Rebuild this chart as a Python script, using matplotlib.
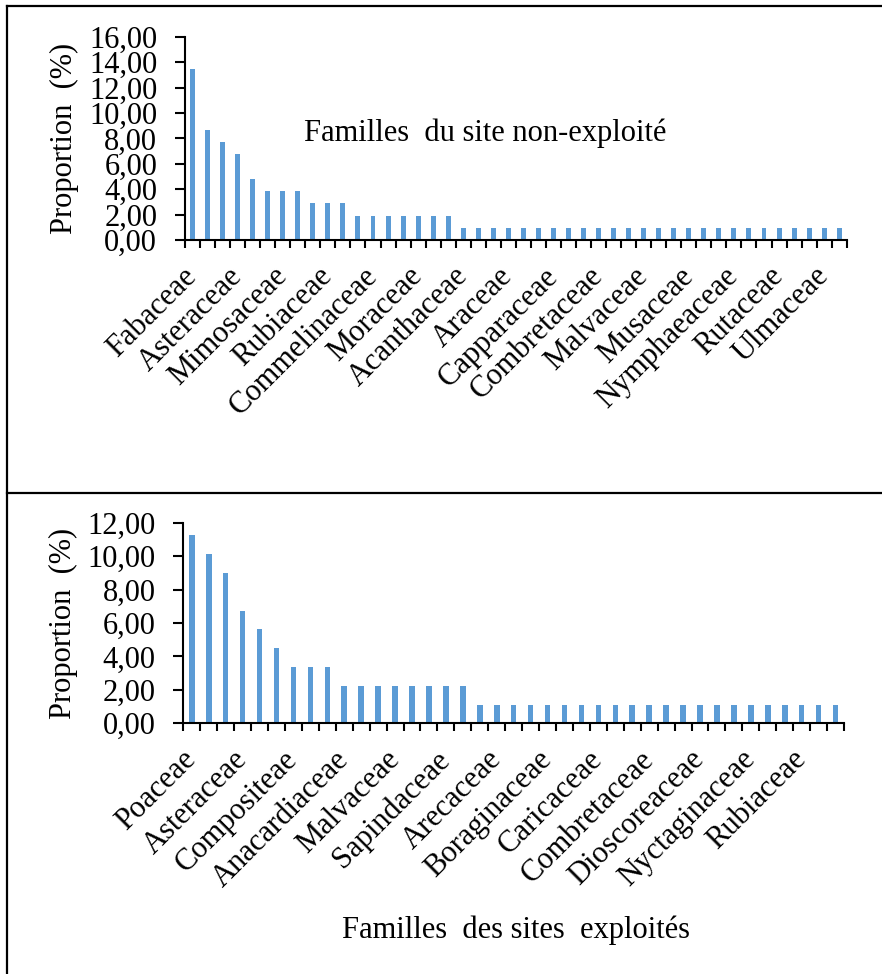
import matplotlib

matplotlib.use("Agg")
import matplotlib.pyplot as plt
import numpy as np
from matplotlib.lines import Line2D
from matplotlib.ticker import FuncFormatter

plt.rcParams.update({
    "font.family": ["Liberation Serif", "DejaVu Serif"],
    "font.size": 22,
    "axes.spines.top": False,
    "axes.spines.right": False,
    "axes.linewidth": 1.5,
    "xtick.direction": "out",
    "ytick.direction": "out",
    "xtick.major.width": 1.5,
    "ytick.major.width": 1.5,
})

# Site non-exploite (44 familles, une etiquette sur trois)
top_labels = [
    "Fabaceae", "Asteraceae", "Mimosaceae", "Rubiaceae", "Commelinaceae",
    "Moraceae", "Acanthaceae", "Araceae", "Capparaceae", "Combretaceae",
    "Malvaceae", "Musaceae", "Nymphaeaceae", "Rutaceae", "Ulmaceae",
]
top_values = [
    13.46, 8.65, 7.69, 6.73, 4.81, 3.85, 3.85, 3.85, 2.88, 2.88, 2.88,
    1.92, 1.92, 1.92, 1.92, 1.92, 1.92, 1.92,
    0.96, 0.96, 0.96, 0.96, 0.96, 0.96, 0.96, 0.96, 0.96, 0.96, 0.96, 0.96, 0.96,
    0.96, 0.96, 0.96, 0.96, 0.96, 0.96, 0.96, 0.96, 0.96, 0.96, 0.96, 0.96, 0.96,
]

# Sites exploites (39 familles, une etiquette sur trois)
bottom_labels = [
    "Poaceae", "Asteraceae", "Compositeae", "Anacardiaceae", "Malvaceae",
    "Sapindaceae", "Arecaceae", "Boraginaceae", "Caricaceae", "Combretaceae",
    "Dioscoreaceae", "Nyctaginaceae", "Rubiaceae",
]
bottom_values = [
    11.24, 10.11, 8.99, 6.74, 5.62, 4.49, 3.37, 3.37, 3.37,
    2.25, 2.25, 2.25, 2.25, 2.25, 2.25, 2.25, 2.25,
    1.12, 1.12, 1.12, 1.12, 1.12, 1.12, 1.12, 1.12, 1.12, 1.12, 1.12,
    1.12, 1.12, 1.12, 1.12, 1.12, 1.12, 1.12, 1.12, 1.12, 1.12, 1.12,
]

BAR_COLOR = "#5B9BD5"
W, H = 882, 974


def comma_fmt(v, _pos):
    return f"{v:.2f}".replace(".", ",")


def draw_panel(ax, values, labels, ymax):
    n = len(values)
    x = np.arange(n)
    ax.bar(x, values, width=0.33, color=BAR_COLOR)
    ax.set_xlim(-0.5, n - 0.5)
    ax.set_ylim(0, ymax)
    ax.set_yticks(np.arange(0, ymax + 1, 2))
    ax.yaxis.set_major_formatter(FuncFormatter(comma_fmt))
    ax.tick_params(axis="y", length=7, pad=13)

    ax.set_xticks(np.arange(-0.5, n, 1.0))
    ax.set_xticklabels([])
    ax.tick_params(axis="x", which="major", length=6)
    ax.set_xticks(x[::3], labels, minor=True)
    ax.tick_params(axis="x", which="minor", length=0, pad=23)
    for lbl in ax.get_xticklabels(minor=True):
        lbl.set_rotation(45)
        lbl.set_ha("right")
        lbl.set_va("center")
        lbl.set_rotation_mode("anchor")

    ax.set_ylabel("Proportion  (%)")
    ax.yaxis.set_label_coords(-0.16, 0.5)


fig = plt.figure(figsize=(W / 100, H / 100), dpi=100)

ax_top = fig.add_axes([185 / W, 1 - 240 / H, 661.7 / W, 203.3 / H])
draw_panel(ax_top, top_values, top_labels, 16)
fig.text(485 / W, 1 - 133 / H, "Familles  du site non-exploité",
         ha="center", va="center")

ax_bot = fig.add_axes([183.3 / W, 1 - 723.3 / H, 660.7 / W, 200.6 / H])
draw_panel(ax_bot, bottom_values, bottom_labels, 12)
fig.text(516 / W, 1 - 930 / H, "Familles  des sites  exploités",
         ha="center", va="center")

# cadres des deux graphiques
frame = dict(transform=fig.transFigure, color="black", linewidth=1.6)
fig.add_artist(Line2D([6.5 / W, 1], [1 - 5.5 / H, 1 - 5.5 / H], **frame))
fig.add_artist(Line2D([6.5 / W, 6.5 / W], [0, 1 - 5.5 / H], **frame))
fig.add_artist(Line2D([6.5 / W, 1], [1 - 492.7 / H, 1 - 492.7 / H], **frame))

fig.savefig("out.png", dpi=100)
plt.close(fig)
